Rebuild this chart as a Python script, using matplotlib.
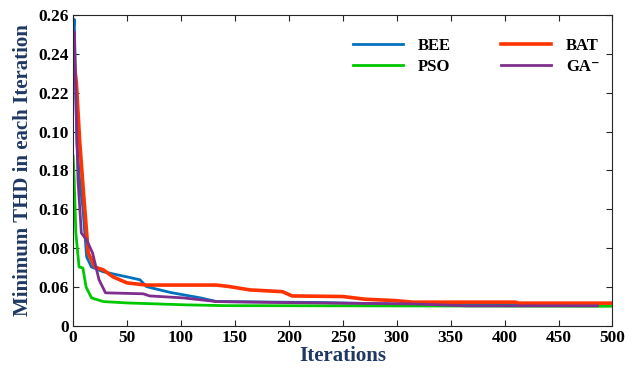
import matplotlib
matplotlib.use("Agg")
import matplotlib.pyplot as plt
import numpy as np

# courbes (unites de l'axe: graduations tous les 0.02)
bee_x = [0, 1, 3.5, 6, 9, 12.5, 17, 28, 50, 62, 68, 90, 118, 133, 231, 300, 486]
bee_y = [0.150, 0.1577, 0.094, 0.075, 0.061, 0.0355, 0.0303, 0.0278, 0.0252, 0.0237,
         0.0202, 0.0172, 0.0144, 0.0125, 0.012, 0.0112, 0.0108]

pso_x = [0, 1, 2.5, 5.5, 9, 12, 17, 28, 50, 105, 142, 500]
pso_y = [0.0874, 0.075, 0.0478, 0.0303, 0.0298, 0.020, 0.0144, 0.0125, 0.0118, 0.0108,
         0.0104, 0.0101]

bat_x = [0, 1, 3, 6, 9.6, 14, 17, 20, 28, 37, 50, 68, 133, 145, 164, 194, 203, 250,
         271, 299, 315, 410, 413, 500]
bat_y = [0.130, 0.135, 0.125, 0.0956, 0.0684, 0.0375, 0.034, 0.0303, 0.0288, 0.0252,
         0.0221, 0.021, 0.021, 0.0202, 0.0185, 0.0176, 0.0154, 0.0151, 0.0137, 0.013,
         0.0122, 0.0122, 0.0117, 0.0117]

ga_x = [0, 1, 4.5, 7.6, 12.5, 18, 24, 30, 65, 71, 102, 133, 194, 315, 365, 486]
ga_y = [0.140, 0.1513, 0.075, 0.0478, 0.0442, 0.0375, 0.0237, 0.017, 0.0165, 0.0154,
        0.0144, 0.0125, 0.012, 0.0113, 0.0103, 0.0103]

ytick_pos = [0, 0.02, 0.04, 0.06, 0.08, 0.10, 0.12, 0.14, 0.16]
ytick_lab = ['0', '0.06', '0.08', '0.16', '0.18', '0.10', '0.22', '0.24', '0.26']
xticks = list(range(0, 501, 50))

plt.rcParams['font.family'] = ['Liberation Serif', 'DejaVu Serif']
plt.rcParams['font.weight'] = 'bold'

fig = plt.figure(figsize=(6.36, 3.72), dpi=100)
ax = fig.add_axes([0.115, 0.124, 0.848, 0.836])

ax.plot(bee_x, bee_y, color='#0072BD', lw=2, label='BEE')
ax.plot(pso_x, pso_y, color='#00C800', lw=2, label='PSO')
ax.plot(bat_x, bat_y, color='#FF3300', lw=2.6, label='BAT')
ax.plot(ga_x, ga_y, color='#7E2F8E', lw=2, label='GA\u207b')

ax.set_xlim(0, 500)
ax.set_ylim(0, 0.16)
ax.set_xticks(xticks)
ax.set_yticks(ytick_pos)
ax.set_yticklabels(ytick_lab)
ax.tick_params(direction='in', top=True, right=True, labelsize=12.5, length=4,
               color='#262626', pad=3)
for lab in ax.get_xticklabels() + ax.get_yticklabels():
    lab.set_fontweight('bold')
for s in ax.spines.values():
    s.set_color('#262626')
    s.set_linewidth(0.8)

ax.set_xlabel('Iterations', fontsize=15, fontweight='bold', color='#1F3864', labelpad=0)
ax.set_ylabel('Minimum THD in each Iteration', fontsize=15, fontweight='bold',
              color='#1F3864', labelpad=4)

ax.legend(ncol=2, frameon=False, loc='upper right', bbox_to_anchor=(1.004, 0.975),
          prop={'weight': 'bold', 'size': 12}, handlelength=3.0, handletextpad=0.9,
          columnspacing=3.0, labelspacing=0.3)

fig.savefig('out.png', dpi=100)
